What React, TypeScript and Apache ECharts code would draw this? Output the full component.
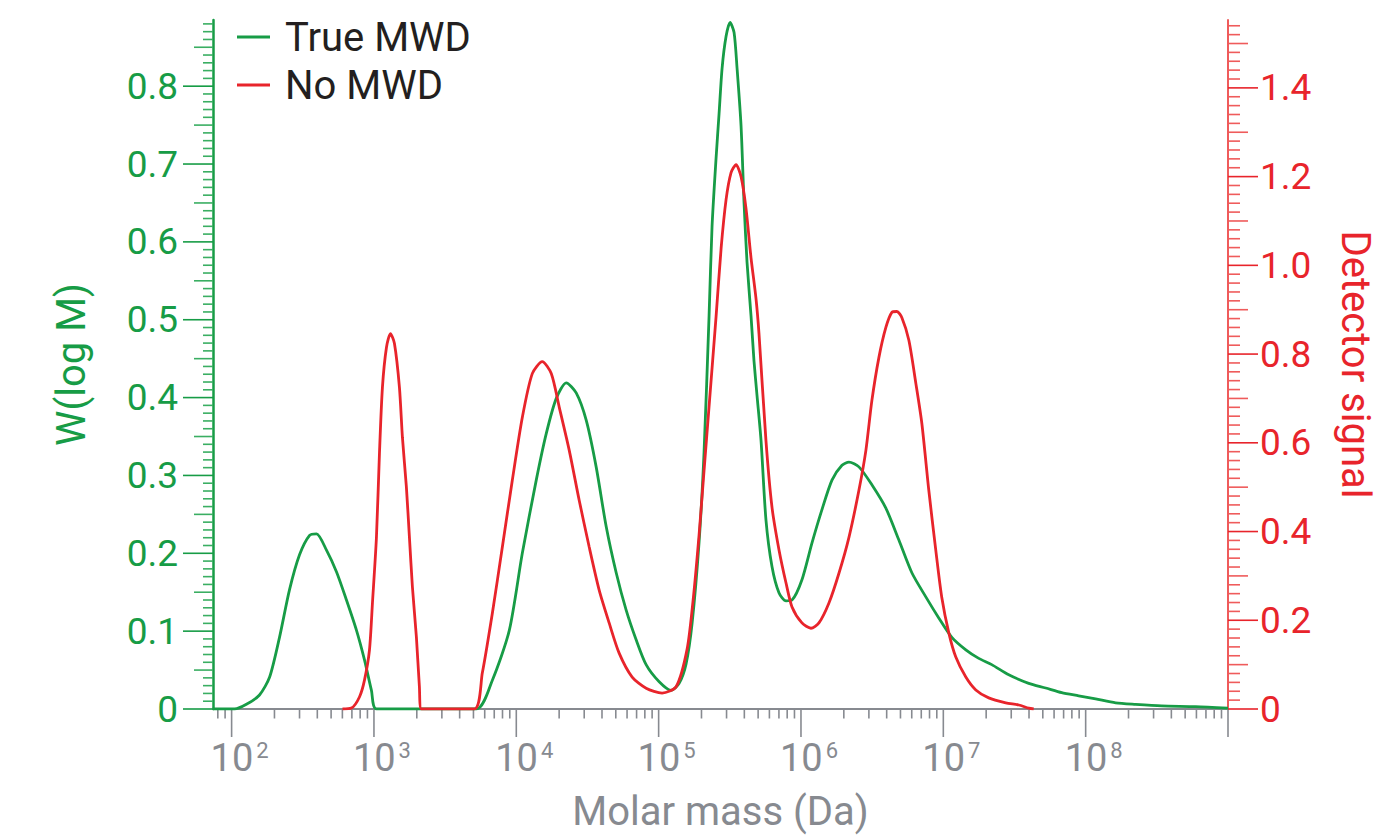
import React, { useEffect, useRef } from "react";
import * as echarts from "echarts";

// ---- data (molar mass in Da) ----
const trueMwdMass = [
  73.6, 105, 127, 157, 185, 217, 255, 300, 353, 395, 464, 546, 641, 754, 858, 960, 1041,
  5240, 6790, 8930, 11020, 13810, 16250, 19090, 22430, 26360, 30980, 36400, 42840, 50330,
  59140, 69490, 81660, 100900, 122400, 139300, 155900, 171800, 192300, 208500, 226100,
  237300, 253300, 265900, 279100, 297700, 317600, 338800, 355600, 379300, 398100, 417800,
  445700, 467700, 491000, 524000, 567500, 625600, 701400, 785200, 865000, 1016000, 1194000,
  1404000, 1651000, 1941000, 2173000, 2553000, 3148000, 3948000, 4873000, 6011000, 7534000,
  9290000, 11480000, 14390000, 17740000, 21880000, 28830000, 39810000, 52360000, 67860000,
  89300000, 117500000, 162500000, 224400000, 341500000, 591600000, 1000000000,
];
const trueMwdW = [
  0, 0, 0.006, 0.018, 0.041, 0.092, 0.153, 0.198, 0.223, 0.225, 0.204, 0.176, 0.14, 0.101, 0.063, 0.024, 0,
  0, 0.037, 0.101, 0.2, 0.294, 0.354, 0.399, 0.419, 0.406, 0.371, 0.311, 0.234, 0.175,
  0.127, 0.089, 0.057, 0.035, 0.024, 0.033, 0.058, 0.11, 0.214, 0.33, 0.505,
  0.62, 0.708, 0.765, 0.823, 0.864, 0.882, 0.869, 0.823, 0.749, 0.65, 0.574,
  0.505, 0.447, 0.403, 0.345, 0.243, 0.183, 0.149, 0.139, 0.14, 0.166, 0.213,
  0.256, 0.294, 0.313, 0.317, 0.311, 0.288, 0.258, 0.217, 0.175, 0.144,
  0.117, 0.092, 0.076, 0.065, 0.057, 0.044, 0.033, 0.027, 0.021,
  0.017, 0.013, 0.008, 0.006, 0.004, 0.003, 0.001,
];

const noMwdMass = [
  601, 695, 791, 858, 930, 976, 1041, 1093, 1147, 1224, 1306, 1393, 1510, 1585, 1690, 1775,
  1863, 1987, 2086, 2154, 5070, 5770, 6789, 7980, 9370, 11020, 12950, 15210, 17610, 20040,
  23550, 27680, 32530, 38220, 44920, 52790, 65160, 81660, 105800, 132700, 158500, 174600,
  192300, 208500, 226100, 253300, 274700, 297700, 322700, 349800, 379300, 411100, 445700,
  483100, 507000, 567500, 625600, 701400, 785200, 865000, 1016000, 1175000, 1337000,
  1572000, 1848000, 2173000, 2553000, 2858000, 3148000, 3526000, 3948000, 4351000, 4720000,
  5117000, 5728000, 6412000, 7063000, 7907000, 8851000, 9750000, 10940000, 12240000,
  14390000, 16910000, 20850000, 27460000, 33880000, 39810000, 43150000,
];
const noMwdSignal = [
  0, 0.002, 0.027, 0.065, 0.133, 0.239, 0.387, 0.576, 0.725, 0.815, 0.846, 0.824, 0.725, 0.612, 0.5, 0.387,
  0.275, 0.162, 0.05, 0, 0, 0.081, 0.216, 0.365, 0.515, 0.657, 0.756, 0.783, 0.756, 0.68,
  0.583, 0.47, 0.365, 0.268, 0.194, 0.126, 0.072, 0.047, 0.036, 0.05, 0.135, 0.245,
  0.392, 0.538, 0.682, 0.885, 1.038, 1.148, 1.209, 1.227, 1.2, 1.128, 1.017,
  0.925, 0.846, 0.605, 0.455, 0.358, 0.284, 0.23, 0.194, 0.182, 0.194,
  0.239, 0.306, 0.387, 0.493, 0.583, 0.695, 0.792, 0.86, 0.894, 0.896,
  0.882, 0.831, 0.734, 0.644, 0.493, 0.358, 0.252, 0.171, 0.117,
  0.072, 0.043, 0.025, 0.014, 0.009, 0.002, 0,
];

const seriesNames = ["True MWD", "No MWD"];
const xAxisName = "Molar mass (Da)";
const leftAxisName = "W(log M)";
const rightAxisName = "Detector signal";

// axis ranges
const xMin = 74;
const xMax = 1e9;
const leftMax = 0.885;
const rightMax = 1.553;
const leftTickStep = 0.01;
const rightTickStep = 0.02;
const decades = [1, 2, 3, 4, 5, 6, 7, 8];
const minorMultipliers = [2, 3, 4, 5, 6, 7, 8, 9];

const GREEN = "#179c46";
const RED = "#e8242b";
const GRAY = "#878a90";
const FONT = "Roboto";

function buildTicks() {
  const xMajor: number[][] = [];
  const xMinor: number[][] = [];
  [80, 90].forEach((m) => xMinor.push([m, 0]));
  decades.forEach((d) => {
    const base = Math.pow(10, d);
    if (d >= 2) xMajor.push([base, 0]);
    if (d >= 2) minorMultipliers.forEach((k) => xMinor.push([k * base, 0]));
  });
  xMajor.push([xMax, 0]);

  const lMaj: number[][] = [], lMed: number[][] = [], lMin: number[][] = [];
  for (let i = 0; i * leftTickStep <= leftMax - 0.004; i++) {
    const v = +(i * leftTickStep).toFixed(3);
    if (i % 10 === 0) lMaj.push([xMin, v]);
    else if (i % 5 === 0) lMed.push([xMin, v]);
    else lMin.push([xMin, v]);
  }
  const rMaj: number[][] = [], rMed: number[][] = [], rMin: number[][] = [];
  for (let i = 0; i * rightTickStep <= rightMax - 0.005; i++) {
    const v = +(i * rightTickStep).toFixed(3);
    if (i % 10 === 0) rMaj.push([xMax, v]);
    else if (i % 5 === 0) rMed.push([xMax, v]);
    else rMin.push([xMax, v]);
  }
  return { xMajor, xMinor, lMaj, lMed, lMin, rMaj, rMed, rMin };
}

function tickSeries(data: number[][], yIndex: number, size: number[], offset: number[], color: string) {
  return {
    type: "scatter",
    yAxisIndex: yIndex,
    data,
    symbol: "rect",
    symbolSize: size,
    symbolOffset: offset,
    itemStyle: { color, opacity: 1 },
    silent: true,
    clip: false,
    z: 1,
    emphasis: { disabled: true },
  };
}

export default function App() {
  const ref = useRef<HTMLDivElement>(null);

  useEffect(() => {
    if (!ref.current) return;
    const chart = echarts.init(ref.current, null, { renderer: "svg" });
    const t = buildTicks();

    const option: any = {
      animation: false,
      textStyle: { fontFamily: FONT },
      grid: {
        left: 213,
        right: 150,
        top: 20,
        bottom: 127,
        containLabel: false,
        outerBoundsMode: "none",
      },
      legend: {
        data: seriesNames,
        orient: "vertical",
        left: 232,
        top: 12,
        itemGap: 8,
        icon: "rect",
        itemWidth: 33,
        itemHeight: 3,
        textStyle: { fontSize: 40, color: "#231f20", fontFamily: FONT, padding: [0, 0, 0, 10] },
        selectedMode: false,
      },
      xAxis: {
        type: "log",
        logBase: 10,
        min: xMin,
        max: xMax,
        splitNumber: 7,
        name: xAxisName,
        nameLocation: "middle",
        nameGap: 82,
        nameTextStyle: { fontSize: 40, color: GRAY, fontFamily: FONT },
        axisLine: { show: true, lineStyle: { color: GRAY, width: 2 } },
        axisTick: { show: false },
        minorTick: { show: false },
        splitLine: { show: false },
        axisLabel: {
          margin: 30,
          color: GRAY,
          showMinLabel: true,
          showMaxLabel: true,
          formatter: (v: number) => {
            const l = Math.log10(v);
            const r = Math.round(l);
            if (Math.abs(l - r) > 1e-6 || r >= 9 || r < 2) return "";
            return `{b|10}{s|${r}}`;
          },
          rich: {
            b: { fontSize: 38, color: GRAY, fontFamily: FONT, padding: [0, 0, 0, 16] },
            s: { fontSize: 22, color: GRAY, fontFamily: FONT, verticalAlign: "top", padding: [0, 0, 0, 3] },
          },
        },
      },
      yAxis: [
        {
          type: "value",
          min: 0,
          max: leftMax,
          interval: 0.1,
          position: "left",
          name: leftAxisName,
          nameLocation: "middle",
          nameGap: 122,
          nameTextStyle: { fontSize: 40, color: GREEN, fontFamily: FONT },
          axisLine: { show: true, lineStyle: { color: GREEN, width: 2.5 } },
          axisTick: { show: false },
          splitLine: { show: false },
          axisLabel: {
            margin: 35,
            color: GREEN,
            fontSize: 37,
            fontFamily: FONT,
            showMaxLabel: false,
            formatter: (v: number) => (v === 0 ? "0" : v.toFixed(1)),
          },
        },
        {
          type: "value",
          min: 0,
          max: rightMax,
          interval: 0.2,
          position: "right",
          name: rightAxisName,
          nameLocation: "middle",
          nameRotate: -90,
          nameGap: 107,
          nameTextStyle: { fontSize: 40, color: RED, fontFamily: FONT, lineHeight: 40 },
          axisLine: { show: true, lineStyle: { color: "#ef5b5b", width: 2 } },
          axisTick: { show: false },
          splitLine: { show: false },
          axisLabel: {
            margin: 32,
            color: RED,
            fontSize: 37,
            fontFamily: FONT,
            showMaxLabel: false,
            formatter: (v: number) => (v === 0 ? "0" : v.toFixed(1)),
          },
        },
      ],
      series: [
        tickSeries(t.xMajor, 0, [1.6, 28], [0, 14], GRAY),
        tickSeries(t.xMinor, 0, [1.6, 9], [0, 5], GRAY),
        tickSeries(t.lMaj, 0, [30, 1.6], [-15, 0], GREEN),
        tickSeries(t.lMed, 0, [19, 1.6], [-9.5, 0], "#3aae62"),
        tickSeries(t.lMin, 0, [10, 1.6], [-5, 0], "#3aae62"),
        tickSeries(t.rMaj, 1, [30, 1.6], [15, 0], RED),
        tickSeries(t.rMed, 1, [20, 1.6], [10, 0], "#ef5b5b"),
        tickSeries(t.rMin, 1, [12, 1.6], [6, 0], "#ef5b5b"),
        {
          name: seriesNames[0],
          type: "line",
          yAxisIndex: 0,
          data: trueMwdMass.map((m, i) => [m, trueMwdW[i]]),
          showSymbol: false,
          smooth: 0.25,
          lineStyle: { color: GREEN, width: 2.8 },
          itemStyle: { color: GREEN },
          z: 3,
          silent: true,
        },
        {
          name: seriesNames[1],
          type: "line",
          yAxisIndex: 1,
          data: noMwdMass.map((m, i) => [m, noMwdSignal[i]]),
          showSymbol: false,
          smooth: 0.25,
          lineStyle: { color: RED, width: 2.8 },
          itemStyle: { color: RED },
          z: 4,
          silent: true,
        },
      ],
    };

    chart.setOption(option);
    return () => chart.dispose();
  }, []);

  return (
    <div
      ref={ref}
      style={{ position: "absolute", left: 0, top: 0, width: 1378, height: 836, background: "#fff" }}
    />
  );
}
